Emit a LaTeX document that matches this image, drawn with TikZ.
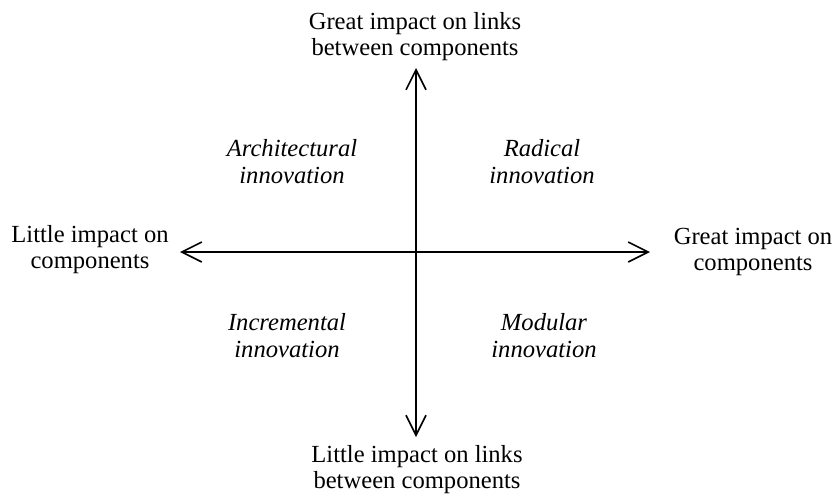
\documentclass[tikz,border=0pt]{standalone}
\usepackage{fontspec}
\setmainfont{Liberation Serif}
\usetikzlibrary{arrows.meta}
\tikzset{
  lbl/.style={align=center, inner sep=0pt, anchor=base, font=\fontsize{12.3}{12.6}\selectfont},
  quad/.style={lbl, font=\fontsize{12.3}{13.2}\selectfont\itshape},
  axis/.style={line width=0.8pt, {Straight Barb[length=10pt,width=10pt,line width=0.8pt]}-{Straight Barb[length=10pt,width=10pt,line width=0.8pt]}}
}
\begin{document}
\begin{tikzpicture}[x=0.5pt,y=-0.5pt]
\useasboundingbox (0,0) rectangle (833,495);
\node[lbl] (top) at (415,55) {Great impact on links\\between components};
\node[lbl] (bot) at (417,488) {Little impact on links\\between components};
\node[lbl] (lft) at (90,268) {Little impact on\\components};
\node[lbl] (rgt) at (753,270) {Great impact on\\components};
\node[quad] (arch) at (292,183) {Architectural\\innovation};
\node[quad] (rad) at (542,183) {Radical\\innovation};
\node[quad] (inc) at (287,357) {Incremental\\innovation};
\node[quad] (mod) at (544,357) {Modular\\innovation};
\coordinate (T) at (416,68);
\coordinate (B) at (416,437);
\coordinate (L) at (180,252);
\coordinate (R) at (650,252);
\draw[axis] (T) -- (B);
\draw[axis] (L) -- (R);
\end{tikzpicture}
\end{document}
